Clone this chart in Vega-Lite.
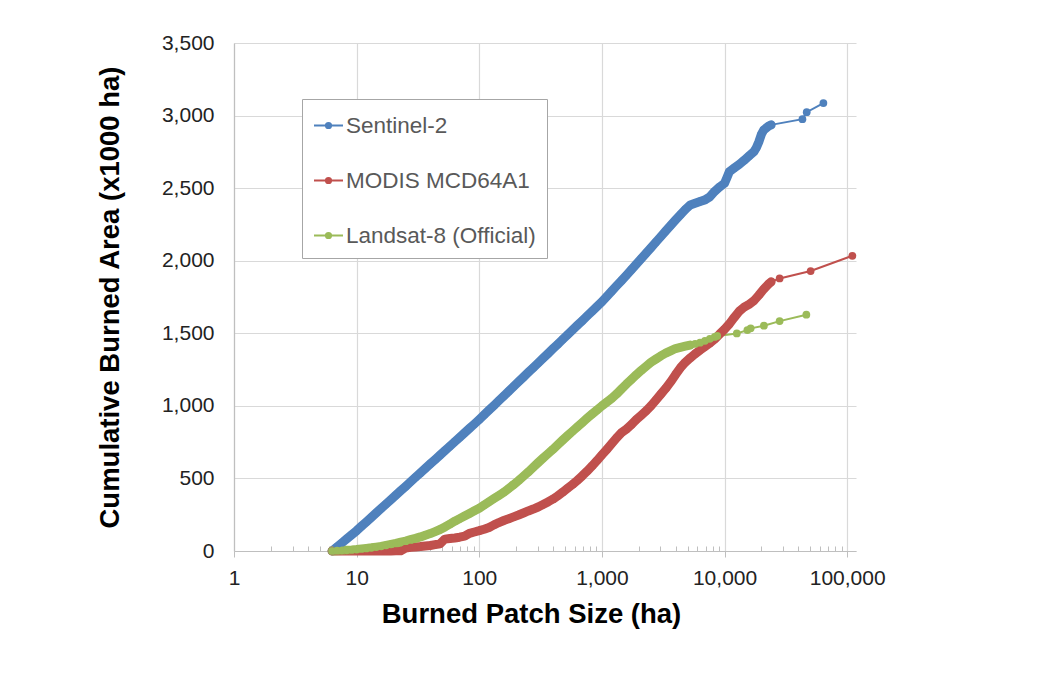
{
"$schema": "https://vega.github.io/schema/vega-lite/v6.json",
"width": 622, "height": 508,
"autosize": {"type": "none"},
"padding": {"left": 234, "top": 43, "right": 189, "bottom": 140},
"background": "white",
"config": {"view": {"stroke": null}, "font": "Liberation Sans"},
"data": {"values": [
{"series":"Sentinel-2","size":6.31,"area":0},{"series":"Sentinel-2","size":6.918,"area":28},{"series":"Sentinel-2","size":7.586,"area":56},{"series":"Sentinel-2","size":8.318,"area":84},{"series":"Sentinel-2","size":9.12,"area":112},{"series":"Sentinel-2","size":10,"area":140},{"series":"Sentinel-2","size":10.96,"area":171},{"series":"Sentinel-2","size":12.02,"area":201},{"series":"Sentinel-2","size":13.18,"area":232},{"series":"Sentinel-2","size":14.45,"area":263},{"series":"Sentinel-2","size":15.85,"area":293},{"series":"Sentinel-2","size":17.38,"area":324},{"series":"Sentinel-2","size":19.05,"area":354},{"series":"Sentinel-2","size":20.89,"area":385},{"series":"Sentinel-2","size":22.91,"area":416},{"series":"Sentinel-2","size":25.12,"area":446},{"series":"Sentinel-2","size":27.54,"area":477},{"series":"Sentinel-2","size":30.2,"area":508},{"series":"Sentinel-2","size":33.11,"area":538},{"series":"Sentinel-2","size":36.31,"area":569},{"series":"Sentinel-2","size":39.81,"area":600},{"series":"Sentinel-2","size":43.65,"area":630},{"series":"Sentinel-2","size":47.86,"area":661},{"series":"Sentinel-2","size":52.48,"area":691},{"series":"Sentinel-2","size":57.54,"area":722},{"series":"Sentinel-2","size":63.1,"area":753},{"series":"Sentinel-2","size":69.18,"area":783},{"series":"Sentinel-2","size":75.86,"area":814},{"series":"Sentinel-2","size":83.18,"area":845},{"series":"Sentinel-2","size":91.2,"area":875},{"series":"Sentinel-2","size":100,"area":906},{"series":"Sentinel-2","size":109.6,"area":938},{"series":"Sentinel-2","size":120.2,"area":971},{"series":"Sentinel-2","size":131.8,"area":1003},{"series":"Sentinel-2","size":144.5,"area":1036},{"series":"Sentinel-2","size":158.5,"area":1068},{"series":"Sentinel-2","size":173.8,"area":1101},{"series":"Sentinel-2","size":190.5,"area":1133},{"series":"Sentinel-2","size":208.9,"area":1166},{"series":"Sentinel-2","size":229.1,"area":1198},{"series":"Sentinel-2","size":251.2,"area":1231},{"series":"Sentinel-2","size":275.4,"area":1263},{"series":"Sentinel-2","size":302,"area":1295},{"series":"Sentinel-2","size":331.1,"area":1328},{"series":"Sentinel-2","size":363.1,"area":1360},{"series":"Sentinel-2","size":398.1,"area":1393},{"series":"Sentinel-2","size":436.5,"area":1425},{"series":"Sentinel-2","size":478.6,"area":1458},{"series":"Sentinel-2","size":524.8,"area":1490},{"series":"Sentinel-2","size":575.4,"area":1522},{"series":"Sentinel-2","size":631,"area":1555},{"series":"Sentinel-2","size":691.8,"area":1587},{"series":"Sentinel-2","size":758.6,"area":1620},{"series":"Sentinel-2","size":831.8,"area":1652},{"series":"Sentinel-2","size":912,"area":1685},{"series":"Sentinel-2","size":1000,"area":1717},{"series":"Sentinel-2","size":1096,"area":1754},{"series":"Sentinel-2","size":1202,"area":1790},{"series":"Sentinel-2","size":1318,"area":1827},{"series":"Sentinel-2","size":1445,"area":1863},{"series":"Sentinel-2","size":1585,"area":1900},{"series":"Sentinel-2","size":1738,"area":1938},{"series":"Sentinel-2","size":1905,"area":1976},{"series":"Sentinel-2","size":2089,"area":2014},{"series":"Sentinel-2","size":2291,"area":2052},{"series":"Sentinel-2","size":2512,"area":2090},{"series":"Sentinel-2","size":2754,"area":2128},{"series":"Sentinel-2","size":3020,"area":2166},{"series":"Sentinel-2","size":3311,"area":2204},{"series":"Sentinel-2","size":3631,"area":2242},{"series":"Sentinel-2","size":3981,"area":2280},{"series":"Sentinel-2","size":4365,"area":2317},{"series":"Sentinel-2","size":4786,"area":2353},{"series":"Sentinel-2","size":5248,"area":2384},{"series":"Sentinel-2","size":5754,"area":2396},{"series":"Sentinel-2","size":6310,"area":2408},{"series":"Sentinel-2","size":6918,"area":2419},{"series":"Sentinel-2","size":7586,"area":2440},{"series":"Sentinel-2","size":8318,"area":2478},{"series":"Sentinel-2","size":9120,"area":2508},{"series":"Sentinel-2","size":10000,"area":2534},{"series":"Sentinel-2","size":10470,"area":2574},{"series":"Sentinel-2","size":10960,"area":2614},{"series":"Sentinel-2","size":12020,"area":2639},{"series":"Sentinel-2","size":13180,"area":2664},{"series":"Sentinel-2","size":14450,"area":2692},{"series":"Sentinel-2","size":15850,"area":2722},{"series":"Sentinel-2","size":17380,"area":2752},{"series":"Sentinel-2","size":18200,"area":2780},{"series":"Sentinel-2","size":19050,"area":2820},{"series":"Sentinel-2","size":19950,"area":2870},{"series":"Sentinel-2","size":20890,"area":2901},{"series":"Sentinel-2","size":22910,"area":2928},{"series":"Sentinel-2","size":23990,"area":2936},{"series":"Sentinel-2","size":43150,"area":2975},{"series":"Sentinel-2","size":46770,"area":3023},{"series":"Sentinel-2","size":63970,"area":3086},
{"series":"MODIS MCD64A1","size":6.31,"area":0},{"series":"MODIS MCD64A1","size":6.918,"area":0},{"series":"MODIS MCD64A1","size":7.586,"area":0},{"series":"MODIS MCD64A1","size":8.318,"area":0},{"series":"MODIS MCD64A1","size":9.12,"area":0},{"series":"MODIS MCD64A1","size":10,"area":0},{"series":"MODIS MCD64A1","size":10.96,"area":0},{"series":"MODIS MCD64A1","size":12.02,"area":0},{"series":"MODIS MCD64A1","size":13.18,"area":0},{"series":"MODIS MCD64A1","size":14.45,"area":0},{"series":"MODIS MCD64A1","size":15.85,"area":0},{"series":"MODIS MCD64A1","size":17.38,"area":0},{"series":"MODIS MCD64A1","size":19.05,"area":0},{"series":"MODIS MCD64A1","size":20.89,"area":1},{"series":"MODIS MCD64A1","size":22.91,"area":2},{"series":"MODIS MCD64A1","size":25.12,"area":20},{"series":"MODIS MCD64A1","size":27.54,"area":25},{"series":"MODIS MCD64A1","size":30.2,"area":28},{"series":"MODIS MCD64A1","size":33.11,"area":31},{"series":"MODIS MCD64A1","size":36.31,"area":35},{"series":"MODIS MCD64A1","size":39.81,"area":38},{"series":"MODIS MCD64A1","size":43.65,"area":44},{"series":"MODIS MCD64A1","size":47.86,"area":50},{"series":"MODIS MCD64A1","size":52.48,"area":82},{"series":"MODIS MCD64A1","size":57.54,"area":86},{"series":"MODIS MCD64A1","size":63.1,"area":90},{"series":"MODIS MCD64A1","size":69.18,"area":95},{"series":"MODIS MCD64A1","size":75.86,"area":102},{"series":"MODIS MCD64A1","size":83.18,"area":122},{"series":"MODIS MCD64A1","size":91.2,"area":131},{"series":"MODIS MCD64A1","size":100,"area":140},{"series":"MODIS MCD64A1","size":109.6,"area":150},{"series":"MODIS MCD64A1","size":120.2,"area":162},{"series":"MODIS MCD64A1","size":131.8,"area":180},{"series":"MODIS MCD64A1","size":144.5,"area":196},{"series":"MODIS MCD64A1","size":158.5,"area":210},{"series":"MODIS MCD64A1","size":173.8,"area":222},{"series":"MODIS MCD64A1","size":190.5,"area":235},{"series":"MODIS MCD64A1","size":208.9,"area":248},{"series":"MODIS MCD64A1","size":229.1,"area":262},{"series":"MODIS MCD64A1","size":251.2,"area":276},{"series":"MODIS MCD64A1","size":275.4,"area":289},{"series":"MODIS MCD64A1","size":302,"area":303},{"series":"MODIS MCD64A1","size":331.1,"area":320},{"series":"MODIS MCD64A1","size":363.1,"area":338},{"series":"MODIS MCD64A1","size":398.1,"area":357},{"series":"MODIS MCD64A1","size":436.5,"area":380},{"series":"MODIS MCD64A1","size":478.6,"area":405},{"series":"MODIS MCD64A1","size":524.8,"area":432},{"series":"MODIS MCD64A1","size":575.4,"area":458},{"series":"MODIS MCD64A1","size":631,"area":487},{"series":"MODIS MCD64A1","size":691.8,"area":518},{"series":"MODIS MCD64A1","size":758.6,"area":551},{"series":"MODIS MCD64A1","size":831.8,"area":586},{"series":"MODIS MCD64A1","size":912,"area":623},{"series":"MODIS MCD64A1","size":1000,"area":662},{"series":"MODIS MCD64A1","size":1096,"area":700},{"series":"MODIS MCD64A1","size":1202,"area":740},{"series":"MODIS MCD64A1","size":1318,"area":780},{"series":"MODIS MCD64A1","size":1445,"area":815},{"series":"MODIS MCD64A1","size":1585,"area":840},{"series":"MODIS MCD64A1","size":1738,"area":870},{"series":"MODIS MCD64A1","size":1905,"area":905},{"series":"MODIS MCD64A1","size":2089,"area":935},{"series":"MODIS MCD64A1","size":2291,"area":965},{"series":"MODIS MCD64A1","size":2512,"area":1000},{"series":"MODIS MCD64A1","size":2754,"area":1040},{"series":"MODIS MCD64A1","size":3020,"area":1080},{"series":"MODIS MCD64A1","size":3311,"area":1120},{"series":"MODIS MCD64A1","size":3631,"area":1165},{"series":"MODIS MCD64A1","size":3981,"area":1215},{"series":"MODIS MCD64A1","size":4365,"area":1262},{"series":"MODIS MCD64A1","size":4786,"area":1300},{"series":"MODIS MCD64A1","size":5248,"area":1330},{"series":"MODIS MCD64A1","size":5754,"area":1358},{"series":"MODIS MCD64A1","size":6310,"area":1384},{"series":"MODIS MCD64A1","size":6918,"area":1408},{"series":"MODIS MCD64A1","size":7586,"area":1432},{"series":"MODIS MCD64A1","size":8318,"area":1460},{"series":"MODIS MCD64A1","size":9120,"area":1495},{"series":"MODIS MCD64A1","size":10000,"area":1528},{"series":"MODIS MCD64A1","size":10960,"area":1565},{"series":"MODIS MCD64A1","size":12020,"area":1610},{"series":"MODIS MCD64A1","size":13180,"area":1652},{"series":"MODIS MCD64A1","size":14450,"area":1680},{"series":"MODIS MCD64A1","size":15850,"area":1700},{"series":"MODIS MCD64A1","size":17380,"area":1725},{"series":"MODIS MCD64A1","size":19050,"area":1763},{"series":"MODIS MCD64A1","size":20890,"area":1805},{"series":"MODIS MCD64A1","size":22910,"area":1840},{"series":"MODIS MCD64A1","size":23990,"area":1855},{"series":"MODIS MCD64A1","size":28120,"area":1878},{"series":"MODIS MCD64A1","size":50350,"area":1929},{"series":"MODIS MCD64A1","size":110200,"area":2034},
{"series":"Landsat-8 (Official)","size":6.31,"area":0},{"series":"Landsat-8 (Official)","size":6.918,"area":2},{"series":"Landsat-8 (Official)","size":7.586,"area":3},{"series":"Landsat-8 (Official)","size":8.318,"area":5},{"series":"Landsat-8 (Official)","size":9.12,"area":7},{"series":"Landsat-8 (Official)","size":10,"area":10},{"series":"Landsat-8 (Official)","size":10.96,"area":14},{"series":"Landsat-8 (Official)","size":12.02,"area":18},{"series":"Landsat-8 (Official)","size":13.18,"area":22},{"series":"Landsat-8 (Official)","size":14.45,"area":27},{"series":"Landsat-8 (Official)","size":15.85,"area":32},{"series":"Landsat-8 (Official)","size":17.38,"area":39},{"series":"Landsat-8 (Official)","size":19.05,"area":46},{"series":"Landsat-8 (Official)","size":20.89,"area":53},{"series":"Landsat-8 (Official)","size":22.91,"area":61},{"series":"Landsat-8 (Official)","size":25.12,"area":68},{"series":"Landsat-8 (Official)","size":27.54,"area":78},{"series":"Landsat-8 (Official)","size":30.2,"area":87},{"series":"Landsat-8 (Official)","size":33.11,"area":97},{"series":"Landsat-8 (Official)","size":36.31,"area":109},{"series":"Landsat-8 (Official)","size":39.81,"area":120},{"series":"Landsat-8 (Official)","size":43.65,"area":134},{"series":"Landsat-8 (Official)","size":47.86,"area":148},{"series":"Landsat-8 (Official)","size":52.48,"area":166},{"series":"Landsat-8 (Official)","size":57.54,"area":185},{"series":"Landsat-8 (Official)","size":63.1,"area":205},{"series":"Landsat-8 (Official)","size":69.18,"area":223},{"series":"Landsat-8 (Official)","size":75.86,"area":241},{"series":"Landsat-8 (Official)","size":83.18,"area":259},{"series":"Landsat-8 (Official)","size":91.2,"area":277},{"series":"Landsat-8 (Official)","size":100,"area":295},{"series":"Landsat-8 (Official)","size":109.6,"area":317},{"series":"Landsat-8 (Official)","size":120.2,"area":339},{"series":"Landsat-8 (Official)","size":131.8,"area":361},{"series":"Landsat-8 (Official)","size":144.5,"area":383},{"series":"Landsat-8 (Official)","size":158.5,"area":405},{"series":"Landsat-8 (Official)","size":173.8,"area":431},{"series":"Landsat-8 (Official)","size":190.5,"area":457},{"series":"Landsat-8 (Official)","size":208.9,"area":485},{"series":"Landsat-8 (Official)","size":229.1,"area":515},{"series":"Landsat-8 (Official)","size":251.2,"area":545},{"series":"Landsat-8 (Official)","size":275.4,"area":577},{"series":"Landsat-8 (Official)","size":302,"area":609},{"series":"Landsat-8 (Official)","size":331.1,"area":640},{"series":"Landsat-8 (Official)","size":363.1,"area":670},{"series":"Landsat-8 (Official)","size":398.1,"area":700},{"series":"Landsat-8 (Official)","size":436.5,"area":732},{"series":"Landsat-8 (Official)","size":478.6,"area":764},{"series":"Landsat-8 (Official)","size":524.8,"area":795},{"series":"Landsat-8 (Official)","size":575.4,"area":825},{"series":"Landsat-8 (Official)","size":631,"area":855},{"series":"Landsat-8 (Official)","size":691.8,"area":885},{"series":"Landsat-8 (Official)","size":758.6,"area":915},{"series":"Landsat-8 (Official)","size":831.8,"area":944},{"series":"Landsat-8 (Official)","size":912,"area":972},{"series":"Landsat-8 (Official)","size":1000,"area":1000},{"series":"Landsat-8 (Official)","size":1096,"area":1026},{"series":"Landsat-8 (Official)","size":1202,"area":1052},{"series":"Landsat-8 (Official)","size":1318,"area":1082},{"series":"Landsat-8 (Official)","size":1445,"area":1116},{"series":"Landsat-8 (Official)","size":1585,"area":1150},{"series":"Landsat-8 (Official)","size":1738,"area":1182},{"series":"Landsat-8 (Official)","size":1905,"area":1214},{"series":"Landsat-8 (Official)","size":2089,"area":1244},{"series":"Landsat-8 (Official)","size":2291,"area":1272},{"series":"Landsat-8 (Official)","size":2512,"area":1300},{"series":"Landsat-8 (Official)","size":2754,"area":1322},{"series":"Landsat-8 (Official)","size":3020,"area":1344},{"series":"Landsat-8 (Official)","size":3311,"area":1363},{"series":"Landsat-8 (Official)","size":3631,"area":1379},{"series":"Landsat-8 (Official)","size":3981,"area":1395},{"series":"Landsat-8 (Official)","size":4365,"area":1403},{"series":"Landsat-8 (Official)","size":4786,"area":1411},{"series":"Landsat-8 (Official)","size":5248,"area":1419},{"series":"Landsat-8 (Official)","size":5754,"area":1427},{"series":"Landsat-8 (Official)","size":6310,"area":1435},{"series":"Landsat-8 (Official)","size":6918,"area":1448},{"series":"Landsat-8 (Official)","size":7586,"area":1462},{"series":"Landsat-8 (Official)","size":8318,"area":1475},{"series":"Landsat-8 (Official)","size":8710,"area":1482},{"series":"Landsat-8 (Official)","size":12590,"area":1499},{"series":"Landsat-8 (Official)","size":15350,"area":1522},{"series":"Landsat-8 (Official)","size":16330,"area":1534},{"series":"Landsat-8 (Official)","size":20940,"area":1552},{"series":"Landsat-8 (Official)","size":28120,"area":1584},{"series":"Landsat-8 (Official)","size":46450,"area":1628}
]},
"encoding": {
  "x": {"field": "size", "type": "quantitative",
    "scale": {"type": "log", "domain": [1, 118000], "nice": false},
    "axis": {
      "title": "Burned Patch Size (ha)",
      "values": [1,2,3,4,5,6,7,8,9,10,20,30,40,50,60,70,80,90,100,200,300,400,500,600,700,800,900,1000,2000,3000,4000,5000,6000,7000,8000,9000,10000,20000,30000,40000,50000,60000,70000,80000,90000,100000],
      "labelExpr": "indexof([1,10,100,1000,10000,100000], datum.value) >= 0 ? format(datum.value, ',.0f') : ''",
      "grid": true,
      "gridColor": "#d9d9d9",
      "gridWidth": 1.2,
      "gridOpacity": {"condition": {"test": "indexof([1,10,100,1000,10000,100000], datum.value) >= 0", "value": 1}, "value": 0},
      "tickSize": {"condition": {"test": "indexof([1,10,100,1000,10000,100000], datum.value) >= 0", "value": 6}, "value": -5},
      "tickColor": "#bfbfbf",
      "domainColor": "#bfbfbf",
      "domainWidth": 1.2,
      "labelFont": "Liberation Sans",
      "labelFontSize": 21,
      "labelColor": "#222222",
      "labelPadding": 21,
      "labelBaseline": "middle",
      "labelFlush": false,
      "labelOverlap": false,
      "titleFont": "Liberation Sans",
      "titleFontSize": 27.5,
      "titleFontWeight": "bold",
      "titleColor": "#000000",
      "titleX": 297,
      "titleY": 71,
      "titleBaseline": "alphabetic"
    }
  },
  "y": {"field": "area", "type": "quantitative",
    "scale": {"domain": [0, 3500], "nice": false},
    "axis": {
      "title": "Cumulative Burned Area (x1000 ha)",
      "values": [0,500,1000,1500,2000,2500,3000,3500],
      "format": ",.0f",
      "ticks": false,
      "grid": true,
      "gridColor": "#d9d9d9",
      "gridWidth": 1.2,
      "domainColor": "#bfbfbf",
      "domainWidth": 1.2,
      "labelFont": "Liberation Sans",
      "labelFontSize": 21,
      "labelColor": "#222222",
      "labelPadding": 20,
      "titleFont": "Liberation Sans",
      "titleFontSize": 27.5,
      "titleFontWeight": "bold",
      "titleColor": "#000000",
      "titleX": -124,
      "titleY": 254,
      "titleBaseline": "middle",
      "titleAlign": "center"
    }
  },
  "color": {"field": "series", "type": "nominal",
    "scale": {"domain": ["Sentinel-2", "MODIS MCD64A1", "Landsat-8 (Official)"], "range": ["#4F81BD", "#C0504D", "#9BBB59"]},
    "legend": {
      "title": null,
      "orient": "none",
      "legendX": 68,
      "legendY": 56,
      "symbolType": "M-1,0L1,0M0.18,0A0.18,0.18,0,1,1,-0.18,0A0.18,0.18,0,1,1,0.18,0Z",
      "symbolSize": 841,
      "symbolStrokeWidth": 2,
      "labelFont": "Liberation Sans",
      "labelFontSize": 22.5,
      "labelColor": "#595959",
      "labelLimit": 300,
      "labelOffset": 2,
      "rowPadding": 28,
      "padding": 11,
      "strokeColor": "#a6a6a6",
      "fillColor": "white",
      "encode": {"symbols": {"update": {
        "fill": {"scale": "color", "field": "value"},
        "stroke": {"scale": "color", "field": "value"},
        "strokeWidth": {"value": 2},
        "opacity": {"value": 1}
      }}}
    }
  }
},
"layer": [
  {"mark": {"type": "line", "strokeWidth": 2, "clip": false}},
  {"transform": [{"filter": "(datum.series == 'Landsat-8 (Official)' && datum.size <= 5300) || (datum.series != 'Landsat-8 (Official)' && datum.size <= 24000)"}],
   "mark": {"type": "line", "strokeWidth": 9, "strokeCap": "round", "strokeJoin": "round", "clip": false}},
  {"mark": {"type": "point", "filled": true, "shape": "circle", "size": 60, "opacity": 1, "clip": false}}
]
}
